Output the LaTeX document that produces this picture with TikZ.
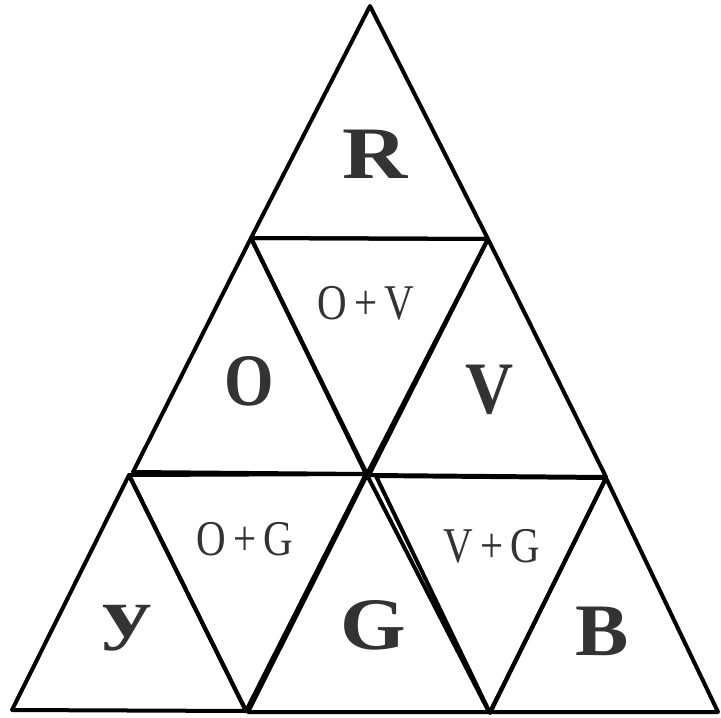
\documentclass[tikz,border=0pt]{standalone}
\usepackage{fontspec}
\setmainfont{Liberation Serif}
\begin{document}
\begin{tikzpicture}[x=1pt,y=-1pt,
  tri/.style={draw=black,line width=4pt,line join=round,line cap=round},
  big/.style={font=\fontsize{74}{74}\selectfont\bfseries,text=black!80,inner sep=0pt},
  mix/.style={font=\fontsize{50}{50}\selectfont,text=black!80,inner sep=0pt}]
\useasboundingbox (0,0) rectangle (721,718);
% top
\draw[tri] (370,6) -- (251,238) -- (488,239) -- cycle;
% second row
\draw[tri] (251,238) -- (133,472) -- (366,474) -- cycle;
\draw[tri] (251,238) -- (488,239) -- (367,474) -- cycle;
\draw[tri] (488,239) -- (369,475) -- (606,477) -- cycle;
% third row
\draw[tri] (129,475) -- (12,710) -- (246,711) -- cycle;
\draw[tri] (129,475) -- (366,474) -- (246,711) -- cycle;
\draw[tri] (367,475) -- (248,712) -- (489,712) -- cycle;
\draw[tri] (376,476) -- (606,478) -- (490,713) -- cycle;
\draw[tri] (606,478) -- (490,712) -- (718,712) -- cycle;
% labels
\node[big] (r) at (375,154) {\scalebox{1.22}[1]{R}};
\node[big] (o) at (249,381) {\scalebox{0.86}[1]{O}};
\node[big] (v) at (490,390) {\scalebox{0.9}[1]{V}};
\node[big,font=\fontsize{68}{68}\selectfont\bfseries] (y) at (127,628) {\scalebox{1.45}[1]{y}};
\node[big] (g) at (373,625) {\scalebox{1.14}[1]{G}};
\node[big] (b) at (602,631) {\scalebox{1.08}[1]{B}};
\node[mix] (ov) at (366,303) {\scalebox{0.82}[1]{O\,+\,V}};
\node[mix] (og) at (245,539) {\scalebox{0.82}[1]{O\,+\,G}};
\node[mix] (vg) at (492,546) {\scalebox{0.82}[1]{V\,+\,G}};
\end{tikzpicture}
\end{document}
